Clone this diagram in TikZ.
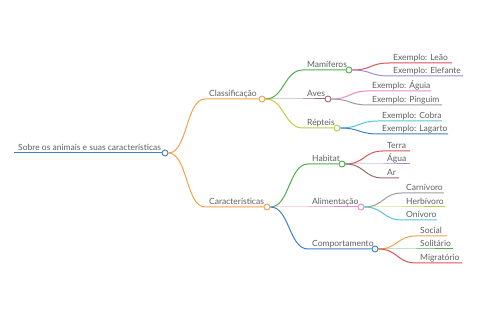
\documentclass[tikz,border=0pt]{standalone}
\usepackage{fontspec}
\setmainfont{Lato}

\definecolor{cblue}{HTML}{3F82C4}
\definecolor{corange}{HTML}{F2A14E}
\definecolor{cgreen}{HTML}{4FAE4F}
\definecolor{cred}{HTML}{D95656}
\definecolor{cpurple}{HTML}{A18CD2}
\definecolor{cbrown}{HTML}{9A6E6E}
\definecolor{cpink}{HTML}{E78BC9}
\definecolor{cgray}{HTML}{9C9C9C}
\definecolor{colive}{HTML}{C3C84C}
\definecolor{ccyan}{HTML}{52C6D6}
\definecolor{ctext}{HTML}{5E5E5E}

\tikzset{
    dot/.style={circle, draw=#1, fill=white, line width=0.9pt, minimum size=6pt, inner sep=0pt},
    lbl/.style={anchor=base west, inner sep=0pt, text=ctext, font=\fontsize{8.5}{10}\selectfont},
    link/.style={line width=1pt, to path={.. controls +(19,0) and +(-19,0) .. (\tikztotarget)}}
}

\begin{document}
\begin{tikzpicture}[x=1pt, y=-1pt]

    % Fix the canvas to the reference size
    \useasboundingbox (0,0) rectangle (480,320);

    % Root
    \node[dot=cblue] (root) at (165,153) {};
    \coordinate (rootS) at (14,153);
    \node[lbl] (rootT) at (18,150.5) {Sobre os animais e suas características};
    \draw[cblue, line width=1pt] (rootS) -- (root.west);

    % Main branches and their children: name/x/y/start/colour/parent/text
    \foreach \name/\cx/\cy/\sx/\col/\src/\txt in {
        class/262/99/205/corange/root/Classificação,
        car/267/207/205/corange/root/Características,
        mam/349/70/303/cgreen/class/Mamíferos,
        aves/328/99/303/cbrown/class/Aves,
        rep/337/128/303/colive/class/Répteis,
        hab/342/164/308/cgreen/car/Habitat,
        alim/361/207/308/cpink/car/Alimentação,
        comp/375/249/308/cblue/car/Comportamento} {
        \node[dot=\col] (\name) at (\cx,\cy) {};
        \coordinate (\name S) at (\sx,\cy);
        \node[lbl] (\name T) at (\sx+4,\cy-2.5) {\txt};
        \draw[link, \col] (\src.east) to (\name S) -- (\name.west);
    }

    % Leaves: parent/y/start/end/colour/text
    \foreach \src/\ly/\lx/\le/\col/\txt [count=\i] in {
        mam/63/389/452/cred/{Exemplo: Leão},
        mam/76/389/463/cpurple/{Exemplo: Elefante},
        aves/91/368/431/cpink/{Exemplo: Águia},
        aves/105/368/442/cgray/{Exemplo: Pinguim},
        rep/121/378/442/ccyan/{Exemplo: Cobra},
        rep/134/378/448/cblue/{Exemplo: Lagarto},
        hab/151/383/410/cred/Terra,
        hab/164/383/410/cpurple/Água,
        hab/178/383/399/cbrown/Ar,
        alim/193/402/444/cgray/Carnívoro,
        alim/207/402/445/colive/Herbívoro,
        alim/220/402/437/ccyan/Onívoro,
        comp/236/416/447/corange/Social,
        comp/249/416/453/cgreen/Solitário,
        comp/263/416/462/cred/Migratório} {
        \coordinate (leaf\i S) at (\lx,\ly);
        \coordinate (leaf\i E) at (\le,\ly);
        \node[lbl] (leaf\i T) at (\lx+4,\ly-2.5) {\txt};
        \draw[link, \col] (\src.east) to (leaf\i S) -- (leaf\i E);
    }

\end{tikzpicture}
\end{document}
